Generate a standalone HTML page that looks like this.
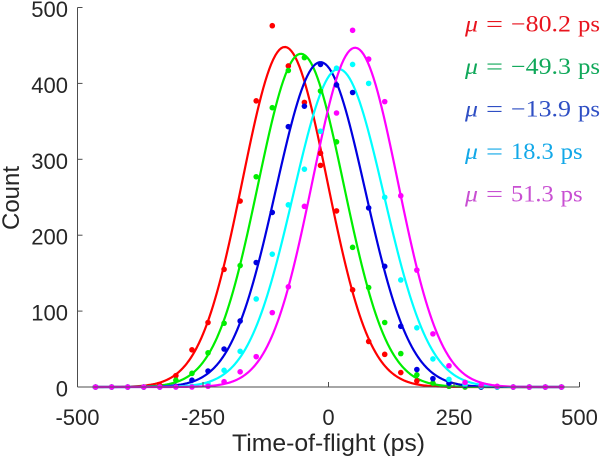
<!DOCTYPE html>
<html lang="en">
<head>
<meta charset="utf-8">
<title>Time-of-flight histogram</title>
<style>
html,body{margin:0;padding:0;background:#fff;}
body{width:600px;height:457px;overflow:hidden;}
svg{display:block;}
.tick{font-family:"Liberation Sans",sans-serif;font-size:22px;fill:#262626;}
.title{font-family:"Liberation Sans",sans-serif;font-size:24px;fill:#262626;}
.mu{font-family:"Liberation Serif",serif;font-size:23px;}
</style>
</head>
<body>
<svg id="chart" xmlns="http://www.w3.org/2000/svg" width="600" height="457" viewBox="0 0 600 457">
  <g id="curves"></g>
  <g id="dots"></g>
  <g id="axes"></g>
  <text class="title" x="232" y="451" textLength="193" lengthAdjust="spacingAndGlyphs">Time-of-flight (ps)</text>
  <text class="title" transform="translate(19,198) rotate(-90)" text-anchor="middle">Count</text>
  <g id="legend"></g>
</svg>
<script>
const bins = [-464,-432,-400,-368,-336,-304,-272,-240,-208,-176,-144,-112,-80,-48,-16,16,48,80,112,144,176,208,240,272,304,336,368,400,432,464];
const redCounts     = [0,0,0,0,2,15,49,85,155,245,377,476,423,375,292,232,128,60,43,19,8,5,1,0,0,0,0,0,0,0];
const greenCounts   = [0,0,0,0,0,9,18,45,84,160,277,368,417,434,390,323,184,131,85,44,16,5,1,0,0,0,0,0,0,0];
const blueCounts    = [0,0,0,0,0,1,9,21,50,87,164,230,343,370,425,398,388,236,159,80,23,11,5,2,0,0,0,0,0,0];
const cyanCounts    = [0,0,0,0,0,0,1,4,22,47,116,175,240,287,337,420,425,400,250,141,78,37,10,3,1,0,0,0,0,0];
const magentaCounts = [0,0,0,0,0,0,0,1,7,20,40,98,132,238,308,361,470,432,376,252,154,70,28,6,2,1,0,0,0,0];
const extraRedBins = [-16];
const extraRedCounts = [308];

const seriesNames = ["red","green","blue","cyan","magenta"];
const seriesColors = ["#ff0000","#00ee00","#0000e0","#00ffff","#ff00ff"];
const fitPeaks = [448,439,428,419,447];
const fitMeans = [-87,-55,-16,20,53];
const fitSigmas = [84.5,85.5,89,90,85];

const legendValues = ["−80.2","−49.3","−13.9","18.3","51.3"];
const legendColors = ["#e8141e","#10a85a","#2f4fc4","#12a8e8","#c84fd2"];

const xTicks = [-500,-250,0,250,500];
const yTicks = [0,100,200,300,400,500];

const NS = "http://www.w3.org/2000/svg";
const xMin = -500, xMax = 500, yMin = 0, yMax = 500;
const pxLeft = 77.5, pxRight = 579.5, pxBottom = 387, pxTop = 7.5;
function xScale(v){ return pxLeft + (v - xMin) / (xMax - xMin) * (pxRight - pxLeft); }
function yScale(v){ return pxBottom - (v - yMin) / (yMax - yMin) * (pxBottom - pxTop); }
function make(tag, attrs, parent){
  const el = document.createElementNS(NS, tag);
  for (const k in attrs) el.setAttribute(k, attrs[k]);
  parent.appendChild(el);
  return el;
}

const curvesG = document.getElementById("curves");
const dotsG = document.getElementById("dots");
const axesG = document.getElementById("axes");
const legendG = document.getElementById("legend");
const allCounts = [redCounts, greenCounts, blueCounts, cyanCounts, magentaCounts];

seriesNames.forEach(function(name, s){
  let d = "";
  for (let x = -470; x <= 470; x += 4) {
    const z = (x - fitMeans[s]) / fitSigmas[s];
    const v = fitPeaks[s] * Math.exp(-0.5 * z * z);
    d += (d ? "L" : "M") + xScale(x).toFixed(2) + " " + yScale(v).toFixed(2);
  }
  const path = make("path", {d: d, fill: "none", stroke: seriesColors[s], "stroke-width": 2.2, "stroke-linejoin": "round"}, curvesG);
  
  
});

seriesNames.forEach(function(name, s){
  allCounts[s].forEach(function(c, i){
    const dot = make("circle", {cx: xScale(bins[i]).toFixed(2), cy: yScale(c).toFixed(2), r: 2.8, fill: seriesColors[s]}, dotsG);
    
    
  });
});
extraRedBins.forEach(function(b, i){
  const dot = make("circle", {cx: xScale(b).toFixed(2), cy: yScale(extraRedCounts[i]).toFixed(2), r: 2.8, fill: seriesColors[0]}, dotsG);
  
  
});

const axisColor = "#4d4d4d";
const yAxisLine = make("line", {x1: pxLeft, x2: pxLeft, y1: pxTop, y2: pxBottom, stroke: axisColor, "stroke-width": 1}, axesG);


const xAxisLine = make("line", {x1: pxLeft, x2: pxRight, y1: pxBottom, y2: pxBottom, stroke: axisColor, "stroke-width": 1}, axesG);



xTicks.forEach(function(t){
  const x = xScale(t);
  const mark = make("line", {x1: x, x2: x, y1: pxBottom, y2: pxBottom - 5, stroke: axisColor, "stroke-width": 1}, axesG);
  
  
  const label = make("text", {x: x, y: 425, "text-anchor": "middle", "class": "tick"}, axesG);
  
  
  label.textContent = String(t);
});

yTicks.forEach(function(t){
  const y = yScale(t);
  const mark = make("line", {x1: pxLeft, x2: pxLeft + 5, y1: y, y2: y, stroke: axisColor, "stroke-width": 1}, axesG);
  
  
  const label = make("text", {x: 68, y: y + 9.5, "text-anchor": "end", "class": "tick"}, axesG);
  
  
  label.textContent = String(t);
});

legendValues.forEach(function(txt, i){
  const baseline = 31.7 + i * 42.5;
  const negative = txt.charAt(0) === "−";
  const valueWidth = negative ? 60 : 42.7;
  const entry = make("g", {fill: legendColors[i], "class": "mu"}, legendG);
  
  
  const mu = make("text", {x: 465, y: baseline, "font-style": "italic", textLength: 13, lengthAdjust: "spacingAndGlyphs"}, entry);
  mu.textContent = "μ";
  const eq = make("text", {x: 486, y: baseline, textLength: 17, lengthAdjust: "spacingAndGlyphs"}, entry);
  eq.textContent = "=";
  const val = make("text", {x: 511, y: baseline, textLength: valueWidth, lengthAdjust: "spacingAndGlyphs"}, entry);
  val.textContent = txt;
  const unit = make("text", {x: 511 + valueWidth + 7, y: baseline, textLength: 22, lengthAdjust: "spacingAndGlyphs"}, entry);
  unit.textContent = "ps";
});
</script>
</body>
</html>
